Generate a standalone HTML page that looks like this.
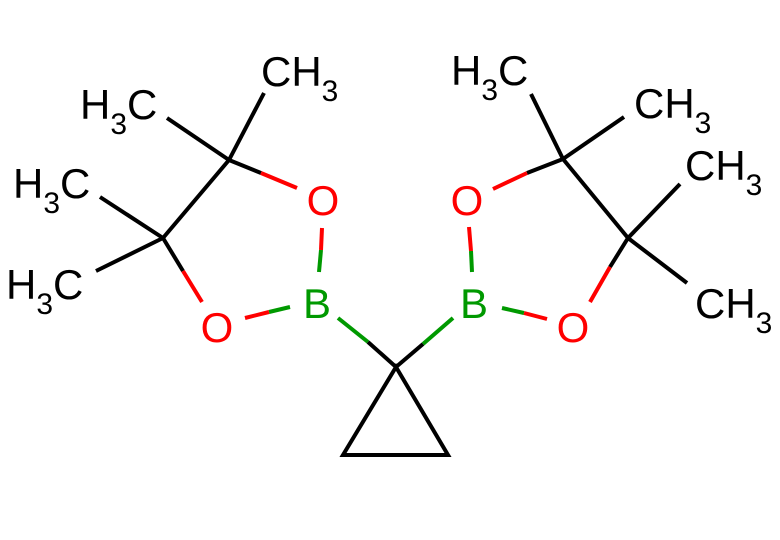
<!DOCTYPE html>
<html><head><meta charset="utf-8"><style>html,body{margin:0;padding:0;background:#fff}</style></head>
<body>
<svg width="780" height="540" xmlns="http://www.w3.org/2000/svg" style="display:block">
<g stroke-width="4" stroke-linecap="butt" fill="none">
<line x1="229" y1="160" x2="264" y2="93" stroke="#000"/>
<line x1="229" y1="160" x2="167" y2="118" stroke="#000"/>
<line x1="229" y1="160" x2="163" y2="238" stroke="#000"/>
<line x1="163" y1="238" x2="100" y2="197" stroke="#000"/>
<line x1="163" y1="238" x2="96" y2="271" stroke="#000"/>
<line x1="229" y1="160" x2="261" y2="173" stroke="#000"/>
<line x1="261" y1="173" x2="297" y2="188" stroke="#f00"/>
<line x1="322" y1="228" x2="321" y2="250" stroke="#f00"/>
<line x1="321" y1="250" x2="319" y2="272" stroke="#090"/>
<line x1="290" y1="307" x2="269" y2="312" stroke="#090"/>
<line x1="269" y1="312" x2="245" y2="318" stroke="#f00"/>
<line x1="163" y1="238" x2="183" y2="271" stroke="#000"/>
<line x1="183" y1="271" x2="202" y2="302" stroke="#f00"/>
<line x1="338" y1="318" x2="368" y2="342" stroke="#090"/>
<line x1="368" y1="342" x2="396" y2="367" stroke="#000"/>
<line x1="453" y1="318" x2="423" y2="344" stroke="#090"/>
<line x1="423" y1="344" x2="396" y2="367" stroke="#000"/>
<polygon points="396,367 343,455 448,455" stroke="#000" stroke-linejoin="miter"/>
<line x1="563" y1="159" x2="531" y2="94" stroke="#000"/>
<line x1="563" y1="159" x2="624" y2="117" stroke="#000"/>
<line x1="563" y1="159" x2="628" y2="238" stroke="#000"/>
<line x1="628" y1="238" x2="680" y2="184" stroke="#000"/>
<line x1="628" y1="238" x2="687" y2="283" stroke="#000"/>
<line x1="563" y1="159" x2="527" y2="173" stroke="#000"/>
<line x1="527" y1="173" x2="493" y2="189" stroke="#f00"/>
<line x1="469" y1="227" x2="471" y2="251" stroke="#f00"/>
<line x1="471" y1="251" x2="472" y2="272" stroke="#090"/>
<line x1="502" y1="308" x2="524" y2="313" stroke="#090"/>
<line x1="524" y1="313" x2="547" y2="319" stroke="#f00"/>
<line x1="628" y1="238" x2="610" y2="267" stroke="#000"/>
<line x1="610" y1="267" x2="590" y2="302" stroke="#f00"/>
</g>
<g font-family="Liberation Sans, sans-serif" font-size="42">
<text x="323" y="215" fill="#f00" text-anchor="middle">O</text>
<text x="217" y="342" fill="#f00" text-anchor="middle">O</text>
<text x="467" y="215" fill="#f00" text-anchor="middle">O</text>
<text x="573" y="342" fill="#f00" text-anchor="middle">O</text>
<text x="317" y="318" fill="#090" text-anchor="middle">B</text>
<text x="474" y="318" fill="#090" text-anchor="middle">B</text>
<g fill="#000">
<text x="261" y="86">CH<tspan font-size="30" dy="15">3</tspan></text>
<text x="80" y="119">H<tspan font-size="30" dy="15">3</tspan><tspan dy="-15">C</tspan></text>
<text x="13" y="198">H<tspan font-size="30" dy="15">3</tspan><tspan dy="-15">C</tspan></text>
<text x="6" y="299">H<tspan font-size="30" dy="15">3</tspan><tspan dy="-15">C</tspan></text>
<text x="451" y="85">H<tspan font-size="30" dy="15">3</tspan><tspan dy="-15">C</tspan></text>
<text x="634" y="118">CH<tspan font-size="30" dy="15">3</tspan></text>
<text x="685" y="180">CH<tspan font-size="30" dy="15">3</tspan></text>
<text x="695" y="318">CH<tspan font-size="30" dy="15">3</tspan></text>
</g>
</g>
</svg>
</body></html>
